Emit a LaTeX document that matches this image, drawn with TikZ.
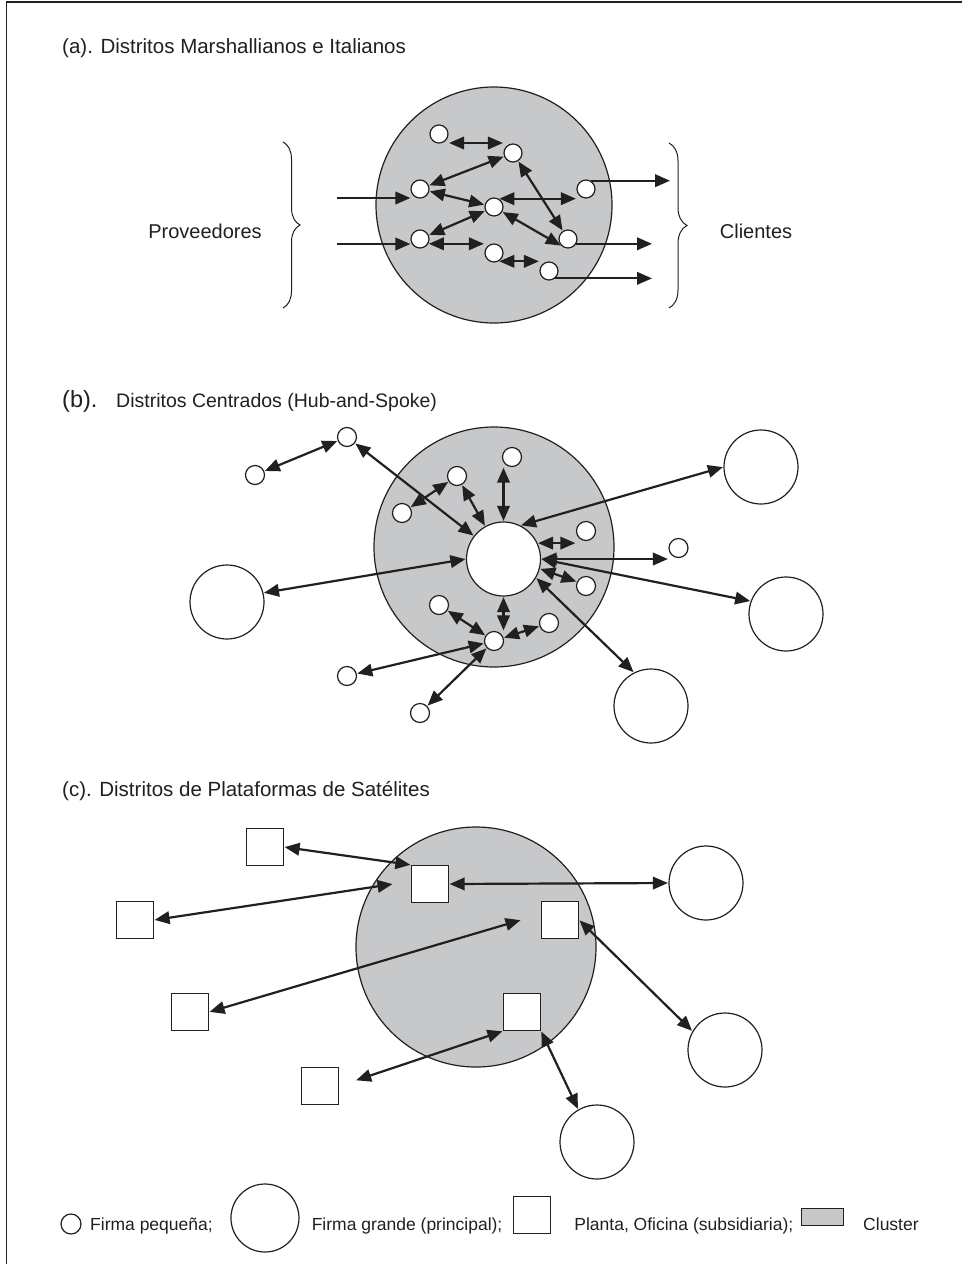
\documentclass[tikz,border=0pt]{standalone}
\usepackage{fontspec}
\setmainfont{Liberation Sans}
\usetikzlibrary{arrows.meta,decorations.pathreplacing,calc}
\definecolor{ink}{RGB}{35,31,32}
\definecolor{clustergray}{RGB}{199,200,202}

\begin{document}
\begin{tikzpicture}[x=1pt,y=-1pt,
  every node/.style={text=ink},
  firm/.style={circle, draw=ink, fill=white, line width=1.2pt, minimum size=18pt, inner sep=0pt},
  bigfirm/.style={circle, draw=ink, fill=white, line width=1.2pt, minimum size=74pt, inner sep=0pt},
  plant/.style={rectangle, draw=ink, fill=white, line width=1.2pt, minimum size=37pt, inner sep=0pt},
  clusterdisk/.style={circle, draw=ink, fill=clustergray, line width=1.2pt, inner sep=0pt},
  link/.style={draw=ink, line width=2.2pt, {Triangle[length=15pt,width=12.5pt]}-{Triangle[length=15pt,width=12.5pt]}, shorten <=0.5pt, shorten >=0.5pt},
  flow/.style={draw=ink, line width=2.2pt, -{Triangle[length=15pt,width=12.5pt]}},
  heading/.style={anchor=base west, inner sep=0pt, font=\fontsize{20.5}{24}\selectfont},
  sidetext/.style={anchor=base, inner sep=0pt, font=\fontsize{20}{24}\selectfont},
  legendtext/.style={anchor=base west, inner sep=0pt, font=\fontsize{17.5}{21}\selectfont},
  curly/.style={draw=ink, line width=1pt, decorate, decoration={brace, amplitude=17pt}}
]
\useasboundingbox (0,0) rectangle (962,1264);
\fill[white] (0,0) rectangle (962,1264);

% page frame (top and left rules)
\draw[ink, line width=1.2pt] (962,2) -- (6.5,2) -- (6.5,1264);

% ---------------- (a) Marshallian and Italian districts ----------------
\node[heading] (ta) at (62,53) {(a). Distritos Marshallianos e Italianos};

\node[clusterdisk, minimum size=236pt] (ca) at (494,205) {};

\node[firm] (n1) at (439,134) {};
\node[firm] (n2) at (513,153) {};
\node[firm] (n3) at (420,189) {};
\node[firm] (n4) at (494,207) {};
\node[firm] (n5) at (586,189) {};
\node[firm] (n6) at (420,239) {};
\node[firm] (n7) at (494,253) {};
\node[firm] (n8) at (568,239) {};
\node[firm] (n9) at (549,271) {};

\coordinate (a12) at ($(n1.east)+(0,9)$);
\draw[link] (a12) -- (a12 -| n2.west);
\draw[link] (n2) -- (n3);
\draw[link] (n3) -- (n4);
\draw[link] (n4) -- (n6);
\draw[link] (n6.-30) -- (n6.-30 -| n7.west);
\draw[link] (n4.60) -- (n4.60 -| n5.west);
\draw[link] (n2) -- (n8);
\draw[link] (n4) -- (n8.south west);
\draw[link] (n7.-60) -- (n7.-60 -| n9.west);

% suppliers feeding in, customers served
\coordinate (p1) at (337,198);
\coordinate (p2) at (337,244);
\coordinate (q1) at (670,179);
\coordinate (q2) at (652,244);
\draw[flow] (p1) -- (p1 -| n3.west);
\draw[flow] (p2) -- (p2 -| n6.west);
\draw[flow] (n5.60) -- (n5.60 -| q1);
\draw[flow] (n8.-30) -- (n8.-30 -| q2);
\draw[flow] (n9.-50) -- (n9.-50 -| q2);

\draw[curly] (283,142) -- (283,308);
\draw[curly, decoration={brace, amplitude=18pt}] (669,143) -- (669,308);
\node[sidetext] (prov) at (205,238) {Proveedores};
\node[sidetext] (cli) at (756,238) {Clientes};

% ---------------- (b) Hub-and-spoke districts ----------------
\node[anchor=base west, inner sep=0pt, font=\fontsize{23.5}{28}\selectfont] (tb1) at (62,407) {(b).};
\node[anchor=base west, inner sep=0pt, font=\fontsize{19.5}{24}\selectfont] (tb2) at (116,407) {Distritos Centrados (Hub-and-Spoke)};

\node[clusterdisk, minimum size=240pt] (cb) at (494,547) {};
\node[bigfirm] (hub) at (503.5,559) {};

\node[firm, minimum size=19pt] (s1) at (347,437) {};
\node[firm, minimum size=19pt] (s2) at (255,475) {};
\node[firm, minimum size=19pt] (s3) at (512,457) {};
\node[firm, minimum size=19pt] (s4) at (457,476) {};
\node[firm, minimum size=19pt] (s5) at (402,513) {};
\node[firm, minimum size=19pt] (s6) at (586,531) {};
\node[firm, minimum size=19pt] (s7) at (586,586) {};
\node[firm, minimum size=19pt] (s8) at (439,605) {};
\node[firm, minimum size=19pt] (s9) at (549,623) {};
\node[firm, minimum size=19pt] (s10) at (494,641) {};
\node[firm, minimum size=19pt] (s11) at (347,676) {};
\node[firm, minimum size=19pt] (s12) at (420,713) {};
\node[firm, minimum size=19pt] (s13) at (678.5,548) {};

\node[bigfirm] (L1) at (227,602) {};
\node[bigfirm] (L2) at (761,467) {};
\node[bigfirm] (L3) at (786,614) {};
\node[bigfirm] (L4) at (651,706) {};

\draw[link] (s2) -- (s1);
\draw[link] (s1) -- (hub);
\draw[link] (s5) -- (s4);
\draw[link] (s4) -- (hub);
\draw[link] (hub.north) -- (hub.north |- s3.south);
\draw[link] (hub.63) -- (L2.west);
\draw[link] (hub.25) -- (hub.25 -| s6.west);
\draw[link] (hub.east) -- (hub.east -| s13.west);
\draw[link] (hub.east) -- (L3.160);
\draw[link] (hub.-15) -- (s7.155);
\draw[link] (hub.-30) -- (L4.117);
\draw[link] (hub.west) -- (L1.14);
\draw[link] (hub.south) -- (hub.south |- s10.north);
\draw[link] (s8) -- (s10);
\draw[link] (s9) -- (s10);
\draw[link] (s10) -- (s11);
\draw[link] (s10) -- (s12);

% ---------------- (c) Satellite platform districts ----------------
\node[heading] (tc) at (62,796) {(c). Distritos de Plataformas de Satélites};

\node[clusterdisk, minimum size=240pt] (cc) at (476,947) {};

\node[plant] (A) at (265,847) {};
\node[plant] (B) at (135,920) {};
\node[plant] (C) at (190,1012) {};
\node[plant] (D) at (320,1086) {};
\node[plant] (E) at (430,884) {};
\node[plant] (F) at (560,920) {};
\node[plant] (G) at (522,1012) {};

\node[bigfirm] (C1) at (706,883) {};
\node[bigfirm] (C2) at (725,1050) {};
\node[bigfirm] (C3) at (597,1142) {};

\coordinate (cl1) at (393,884);
\coordinate (cl2) at (521,920);

\draw[link] (A.east) -- (E.north west);
\draw[link] (B.east) -- (cl1);
\draw[link] (E.east) -- (C1.west);
\draw[link] (C.east) -- (cl2);
\draw[link] (F.east) -- (C2.150);
\draw[link, shorten <=18pt] (D.east) -- (G.south west);
\draw[link] (G.south east) -- (C3.120);

% ---------------- legend ----------------
\node[firm, minimum size=20pt] (lsmall) at (71,1224) {};
\node[legendtext] (lt1) at (90,1230) {Firma pequeña;};
\node[bigfirm, minimum size=68pt] (lbig) at ($(lt1.base east)+(18+34,-12)$) {};
\node[legendtext] (lt2) at ($(lbig.east |- lt1.base)+(12,0)$) {Firma grande (principal);};
\node[plant] (lsq) at ($(lt2.base east)+(11+18.5,-15)$) {};
\node[legendtext] (lt3) at ($(lsq.east |- lt1.base)+(23,0)$) {Planta, Oficina (subsidiaria);};
\node[draw=ink, fill=clustergray, line width=1.2pt, minimum width=42pt, minimum height=17pt, inner sep=0pt] (lbox) at ($(lt3.base east)+(8+21,-13)$) {};
\node[legendtext] (lt4) at ($(lbox.east |- lt1.base)+(19,0)$) {Cluster};

\end{tikzpicture}
\end{document}
